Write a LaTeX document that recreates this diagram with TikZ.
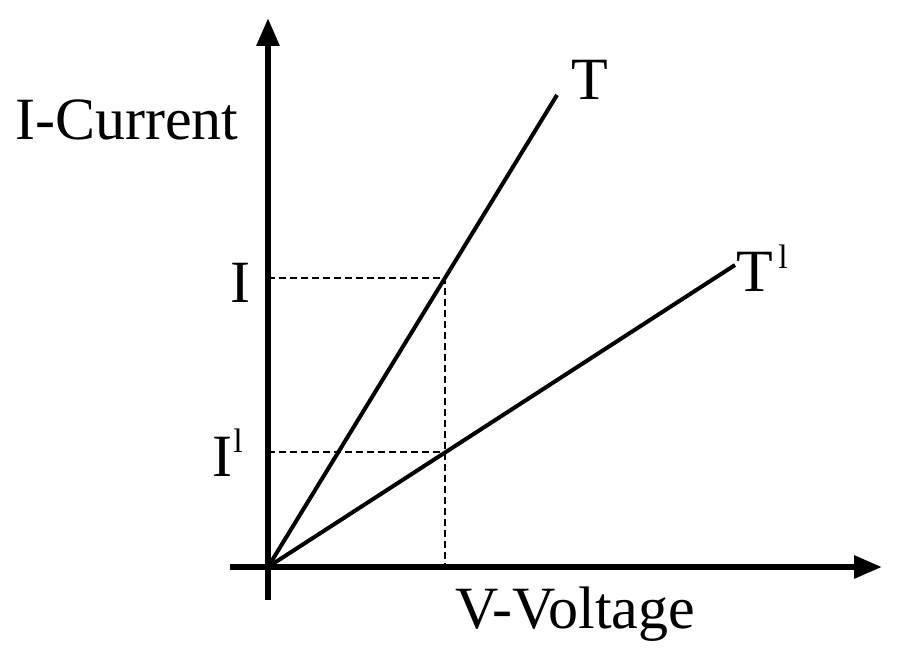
\documentclass[tikz,border=0pt]{standalone}
\usepackage{fontspec}
\setmainfont{Liberation Serif}
\usetikzlibrary{arrows.meta}
\begin{document}
\begin{tikzpicture}[x=1pt,y=-1pt,
 axis/.style={line width=6pt,-{Triangle[length=28pt,width=22pt]}},
 curve/.style={line width=4pt},
 dashln/.style={line width=2.5pt,dash pattern=on 7pt off 4pt},
 lab/.style={font=\fontsize{60}{60}\selectfont,inner sep=0pt},
 sup/.style={font=\fontsize{34}{34}\selectfont,inner sep=0pt}]
\useasboundingbox (0,0) rectangle (900,661);
\coordinate (o) at (268,567);
\coordinate (ybot) at (268,600);
\coordinate (ytop) at (268,18);
\coordinate (xl) at (230,567);
\coordinate (xr) at (882,567);
\draw[axis] (ybot) -- (ytop);
\draw[axis] (xl) -- (xr);
\coordinate (tend) at (557,95);
\coordinate (t1end) at (735,265);
\coordinate (p) at (445,278);
\coordinate (q) at (445,452);
\coordinate (pa) at (268,278);
\coordinate (qa) at (268,452);
\coordinate (pb) at (445,567);
\draw[curve] (o) -- (tend);
\draw[curve] (o) -- (t1end);
\draw[dashln] (pa) -- (p) -- (pb);
\draw[dashln] (qa) -- (q);
\node[lab] (T) at (590,80) {T};
\node[lab] (T1) at (755,272) {T};
\node[sup] (T1s) at (783,257) {l};
\node[lab] (I) at (240,283) {I};
\node[lab] (I1) at (222,457) {I};
\node[sup] (I1s) at (238,441) {l};
\node[lab] (ic) at (127,120) {I-Current};
\node[lab] (vv) at (575,614) {V-Voltage};
\end{tikzpicture}
\end{document}
